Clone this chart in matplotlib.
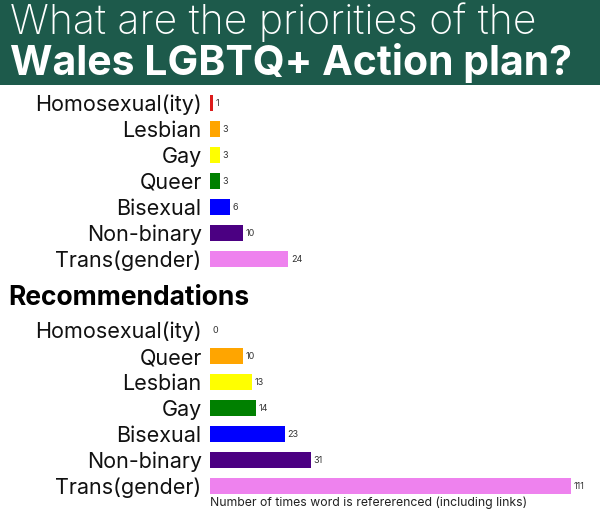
import matplotlib
matplotlib.use("Agg")
from matplotlib import pyplot as plt

# priorities section
prio_labels = ["Homosexual(ity)", "Lesbian", "Gay", "Queer", "Bisexual", "Non-binary", "Trans(gender)"]
prio_counts = [1, 3, 3, 3, 6, 10, 24]
prio_colors = ["#dd1c1c", "orange", "yellow", "green", "blue", "indigo", "violet"]

# recommendations section
rec_labels = ["Homosexual(ity)", "Queer", "Lesbian", "Gay", "Bisexual", "Non-binary", "Trans(gender)"]
rec_counts = [0, 10, 13, 14, 23, 31, 111]
rec_colors = ["#dd1c1c", "orange", "yellow", "green", "blue", "indigo", "violet"]

W, H = 600, 532
fig = plt.figure(figsize=(6, 5.32), dpi=100)
fig.patch.set_facecolor("white")
font = "Inter"


def px_axes(left, top, right, bottom):
    return fig.add_axes([left / W, 1 - bottom / H, (right - left) / W, (bottom - top) / H])


# green header band
hdr = px_axes(0, 0, W, 85)
hdr.set_facecolor("#1d5a4b")
hdr.set_xticks([])
hdr.set_yticks([])
for s in hdr.spines.values():
    s.set_visible(False)
fig.text(10 / W, 1 - 34 / H, "What are the priorities of the", color="white",
         fontsize=29.5, fontweight="light", family=font, va="baseline")
fig.text(10 / W, 1 - 75 / H, "Wales LGBTQ+ Action plan?", color="white",
         fontsize=29.5, fontweight="bold", family=font, va="baseline")


def draw(ax, labels, counts, colors):
    y = range(len(labels))
    bars = ax.barh(y, counts, height=0.62, color=colors)
    ax.set_xlim(0, 120)
    ax.set_ylim(len(labels) - 0.5, -0.5)
    ax.set_yticks(list(y))
    ax.set_yticklabels(labels, fontsize=15.5, family=font, color="#111111")
    ax.tick_params(axis="y", length=0, pad=6)
    ax.set_xticks([])
    for s in ax.spines.values():
        s.set_visible(False)
    ax.bar_label(bars, labels=[str(c) for c in counts], padding=2, fontsize=6.5,
                 family=font, color="#333333")


top_ax = px_axes(210, 90, 600, 272)
draw(top_ax, prio_labels, prio_counts, prio_colors)

fig.text(8 / W, 1 - 298 / H, "Recommendations", fontsize=19, fontweight="bold",
         family=font, color="black", va="center")

bot_ax = px_axes(210, 317, 600, 499)
draw(bot_ax, rec_labels, rec_counts, rec_colors)

fig.text(210 / W, 1 - 503 / H, "Number of times word is refererenced (including links)",
         fontsize=8.8, family=font, color="#222222", va="center")

plt.savefig("out.png", dpi=100)
